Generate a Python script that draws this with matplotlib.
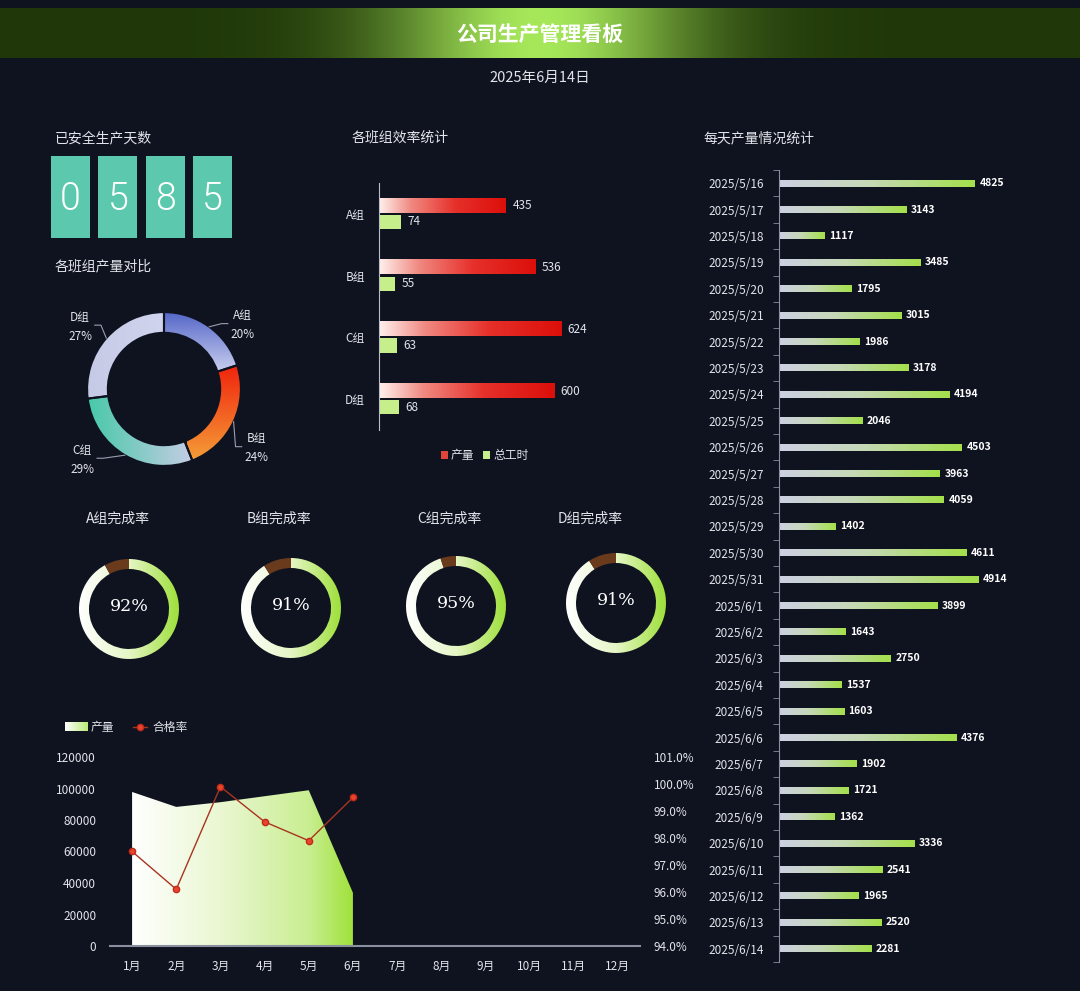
import matplotlib
matplotlib.use('Agg')
import matplotlib.pyplot as plt
import numpy as np
from matplotlib.patches import Wedge, Rectangle, Polygon
from matplotlib.lines import Line2D
from matplotlib.colors import to_rgb

plt.rcParams['font.family'] = ['Noto Sans CJK SC', 'DejaVu Sans']

# ---- data ----
title = '公司生产管理看板'
date_str = '2025年6月14日'
safe_days = '0585'

groups = ['A组', 'B组', 'C组', 'D组']
group_share = [20, 24, 29, 27]          # 各班组产量对比 (%)
eff_output = [435, 536, 624, 600]       # 产量
eff_hours = [74, 55, 63, 68]            # 总工时
done_rate = [92, 91, 95, 91]            # 完成率

months = ['1月', '2月', '3月', '4月', '5月', '6月', '7月', '8月', '9月', '10月', '11月', '12月']
month_output = [97800, 88300, 91300, 95100, 98900, 33800]
pass_rate = [97.5, 96.1, 99.9, 98.6, 97.9, 99.5]

days = ['2025/5/16', '2025/5/17', '2025/5/18', '2025/5/19', '2025/5/20', '2025/5/21',
        '2025/5/22', '2025/5/23', '2025/5/24', '2025/5/25', '2025/5/26', '2025/5/27',
        '2025/5/28', '2025/5/29', '2025/5/30', '2025/5/31', '2025/6/1', '2025/6/2',
        '2025/6/3', '2025/6/4', '2025/6/5', '2025/6/6', '2025/6/7', '2025/6/8',
        '2025/6/9', '2025/6/10', '2025/6/11', '2025/6/12', '2025/6/13', '2025/6/14']
day_output = [4825, 3143, 1117, 3485, 1795, 3015, 1986, 3178, 4194, 2046, 4503, 3963,
              4059, 1402, 4611, 4914, 3899, 1643, 2750, 1537, 1603, 4376, 1902, 1721,
              1362, 3336, 2541, 1965, 2520, 2281]

# ---- layout helpers ----
W, H = 1080, 991
BG = '#0f1320'
TXT = '#e2e4ea'

fig = plt.figure(figsize=(W / 100, H / 100), dpi=100, facecolor=BG)


def pax(x0, y0, x1, y1):
    ax = fig.add_axes([x0 / W, 1 - y1 / H, (x1 - x0) / W, (y1 - y0) / H])
    ax.set_facecolor('none')
    return ax


def ftext(x, y, s, **kw):
    kw.setdefault('color', TXT)
    kw.setdefault('va', 'center')
    fig.text(x / W, 1 - y / H, s, **kw)


def grad(c0, c1, n=256, vertical=False, stops=None):
    cols = [c0, c1] if stops is None else [c for _, c in stops]
    pos = [0, 1] if stops is None else [p for p, _ in stops]
    t = np.linspace(0, 1, n)
    rgb = np.array([to_rgb(c) for c in cols])
    g = np.stack([np.interp(t, pos, rgb[:, k]) for k in range(3)], axis=1)
    return g[:, None, :] if vertical else g[None, :, :]


# ---- header ----
hax = pax(0, 8, W, 58)
hax.axis('off')
xs = np.linspace(0, 1, 600)
glow = np.exp(-((xs - 0.5) / 0.14) ** 2)
dark = np.array(to_rgb('#203809'))
bright = np.array(to_rgb('#a6e85a'))
band = dark + (bright - dark) * glow[:, None]
hax.imshow(band[None, :, :], extent=(0, 1, 0, 1), aspect='auto')
hax.set_xlim(0, 1)
hax.set_ylim(0, 1)
ftext(540, 34, title, ha='center', fontsize=15, fontweight='bold', color='white')
ftext(540, 78, date_str, ha='center', fontsize=10.5)

# ---- section titles ----
ftext(55, 138, '已安全生产天数', fontsize=10)
ftext(352, 138, '各班组效率统计', fontsize=10)
ftext(703, 138, '每天产量情况统计', fontsize=10)
ftext(55, 266, '各班组产量对比', fontsize=10)

# ---- safe days digits ----
for i, d in enumerate(safe_days):
    x0 = 51 + i * 47.3
    fig.add_artist(Rectangle((x0 / W, 1 - 238 / H), 39 / W, 82 / H,
                             transform=fig.transFigure, facecolor='#5cc9ae', edgecolor='none'))
    ftext(x0 + 19.5, 199, d, ha='center', fontsize=27, color='white',
          family=['Roboto', 'DejaVu Sans'], fontweight=300)

# ---- donut: group share ----
dax = pax(64, 289, 264, 489)
dax.axis('off')
slice_grads = [
    ('#c6ccee', '#5466c8', True, (0, 1, 0.25, 1)),
    ('#f5a53a', '#f01a0a', True, (0.3, 1, -1, 0.4)),
    ('#46c9a8', '#c8cde6', False, (-1, 0.4, -1, 0.1)),
    ('#c6cae6', '#d2d5ee', False, (-1, 0.1, -0.2, 1)),
]
label_pos = [(1.02, 0.83), (1.20, -0.77), (-1.06, -0.92), (-1.09, 0.81)]
start = 90
for i, pct in enumerate(group_share):
    th1 = start - pct * 3.6
    w = Wedge((0, 0), 1.0, th1, start, width=0.27, facecolor='none', edgecolor='none')
    dax.add_patch(w)
    c0, c1, vert, ext = slice_grads[i]
    im = dax.imshow(grad(c0, c1, vertical=vert), extent=ext, origin='lower',
                    aspect='auto', zorder=1)
    im.set_clip_path(w)
    dax.add_patch(Wedge((0, 0), 1.0, th1, start, width=0.27, facecolor='none',
                        edgecolor=BG, lw=1.5, zorder=3))
    mid = np.radians((start + th1) / 2)
    lx, ly = label_pos[i]
    sx = np.sign(lx)
    p0 = (np.cos(mid) * 1.0, np.sin(mid) * 1.0)
    p1 = (lx - sx * 0.27, ly + 0.02)
    dax.plot([p0[0], p1[0], p1[0] + sx * 0.08], [p0[1], p1[1], p1[1]],
             color='#9a9eb0', lw=0.8, zorder=4, clip_on=False)
    dax.text(lx, ly, f'{groups[i]}\n{pct}%', ha='center', va='center', fontsize=8.5,
             color=TXT, linespacing=1.6, clip_on=False)
    start = th1
dax.set_xlim(-1.3, 1.3)
dax.set_ylim(-1.3, 1.3)

# ---- efficiency bars ----
eax = pax(379, 183, 600, 430)
n = len(groups)
red_stops = [(0, '#fff1ee'), (0.25, '#f08a82'), (0.6, '#e6302a'), (1, '#dc0f0a')]
for i in range(n):
    eax.imshow(grad(None, None, stops=red_stops), extent=(0, eff_output[i], i - 0.25, i - 0.02),
               origin='lower', aspect='auto', zorder=2)
    eax.barh(i + 0.13, eff_hours[i], height=0.23, color='#c6ef8c', zorder=2)
    eax.text(eff_output[i] + 22, i - 0.13, str(eff_output[i]), va='center', fontsize=8.5, color=TXT)
    eax.text(eff_hours[i] + 22, i + 0.13, str(eff_hours[i]), va='center', fontsize=8.5, color=TXT)
eax.set_xlim(0, 757)
eax.set_ylim(n - 0.5, -0.5)
eax.set_yticks(range(n))
eax.set_yticklabels(groups, fontsize=8.5, color=TXT)
eax.tick_params(axis='y', length=0, pad=10)
eax.set_xticks([])
for s in ['top', 'right', 'bottom']:
    eax.spines[s].set_visible(False)
eax.spines['left'].set_color('#b8bcc8')

# legend
fig.add_artist(Rectangle((441 / W, 1 - 459 / H), 7 / W, 8 / H, transform=fig.transFigure,
                         facecolor='#e0453c', edgecolor='none'))
ftext(451, 455, '产量', fontsize=8.5)
fig.add_artist(Rectangle((483 / W, 1 - 459 / H), 7 / W, 8 / H, transform=fig.transFigure,
                         facecolor='#c6ef8c', edgecolor='none'))
ftext(493, 455, '总工时', fontsize=8.5)

# ---- completion gauges ----
gauge_xy = [(129, 609), (291, 608), (456, 606), (616, 603)]
gauge_title_x = [118, 279, 449, 590]
for i, rate in enumerate(done_rate):
    cx, cy = gauge_xy[i]
    gax = pax(cx - 60, cy - 60, cx + 60, cy + 60)
    gax.axis('off')
    done = Wedge((0, 0), 1.0, 90 - 3.6 * rate, 90, width=0.2, facecolor='none', edgecolor='none')
    gax.add_patch(done)
    im = gax.imshow(grad(None, None, stops=[(0, '#ffffff'), (0.5, '#e6f6c6'), (1, '#9ee03a')]),
                    extent=(-1, 1, -1, 1), origin='lower', aspect='auto', zorder=1)
    im.set_clip_path(done)
    gax.add_patch(Wedge((0, 0), 1.0, 90, 90 + 3.6 * (100 - rate), width=0.2,
                        facecolor='#6a3a1c', edgecolor='none', zorder=2))
    gax.text(0, 0.05, f'{rate}%', ha='center', va='center', fontsize=12.5, color='white',
             family=['DejaVu Serif'])
    gax.set_xlim(-1.2, 1.2)
    gax.set_ylim(-1.2, 1.2)
    ftext(gauge_title_x[i], 519, f'{groups[i]}完成率', ha='center', fontsize=10)

# ---- monthly output & pass rate ----
max_ = pax(110, 757, 640, 946)
xm = np.arange(len(month_output))
poly = Polygon([(xm[0], 0)] + list(zip(xm, month_output)) + [(xm[-1], 0)],
               closed=True, facecolor='none', edgecolor='none')
max_.add_patch(poly)
area_stops = [(0, '#ffffff'), (0.4, '#eaf7d2'), (0.8, '#c9ee92'), (1, '#a0e23a')]
im = max_.imshow(grad(None, None, stops=area_stops), extent=(0, len(month_output) - 1, 0, 120000),
                 origin='lower', aspect='auto', zorder=1)
im.set_clip_path(poly)
max_.set_xlim(-0.5, len(months) - 0.5)
max_.set_ylim(0, 120000)
max_.set_yticks(np.arange(0, 120001, 20000))
max_.set_yticklabels([str(v) for v in range(0, 120001, 20000)], fontsize=8.5, color=TXT)
max_.set_xticks(range(len(months)))
max_.set_xticklabels(months, fontsize=8.5, color=TXT)
max_.tick_params(length=0, pad=10)
for s in ['top', 'right', 'left']:
    max_.spines[s].set_visible(False)
max_.spines['bottom'].set_color('#8a8fa0')
max_.spines['bottom'].set_linewidth(1.5)

rax = max_.twinx()
rax.plot(xm, pass_rate, color='#a8341f', lw=1.0, marker='o', ms=4.5,
         markerfacecolor='#e8452e', markeredgecolor='#c02a18', zorder=5)
rax.set_ylim(94, 101)
rax.set_yticks(np.arange(94, 101.1, 1))
rax.set_yticklabels([f'{v:.1f}%' for v in np.arange(94, 101.1, 1)], fontsize=8.5, color=TXT)
rax.tick_params(length=0, pad=10)
for s in rax.spines.values():
    s.set_visible(False)

# legend
lg = fig.add_axes([65 / W, 1 - 731 / H, 23 / W, 9 / H])
lg.axis('off')
lg.imshow(grad('#ffffff', '#b9ea78'), extent=(0, 1, 0, 1), aspect='auto')
ftext(91, 727, '产量', fontsize=8.5)
fig.add_artist(Line2D([133 / W, 147 / W], [1 - 727 / H] * 2, transform=fig.transFigure,
                      color='#a8341f', lw=1))
fig.add_artist(Line2D([140 / W], [1 - 727 / H], transform=fig.transFigure, marker='o', ms=4.5,
                      markerfacecolor='#e8452e', markeredgecolor='#c02a18'))
ftext(152, 727, '合格率', fontsize=8.5)

# ---- daily output bars ----
dx = pax(779, 170, 982, 962)
nd = len(days)
day_stops = [(0, '#cdd0e2'), (0.45, '#c6d8b8'), (1, '#a4e04a')]
for i, v in enumerate(day_output):
    dx.imshow(grad(None, None, stops=day_stops), extent=(0, v, i - 0.13, i + 0.13),
              origin='lower', aspect='auto', zorder=2)
    dx.text(v + 110, i, str(v), va='center', fontsize=7.5, fontweight='bold',
            color='white', clip_on=False)
dx.set_xlim(0, 5000)
dx.set_ylim(nd - 0.5, -0.5)
dx.set_yticks(range(nd))
dx.set_yticklabels(days, fontsize=8.5, color=TXT)
dx.set_yticks(np.arange(-0.5, nd, 1), minor=True)
dx.tick_params(axis='y', which='major', length=0, pad=11)
dx.tick_params(axis='y', which='minor', length=4, color='#8a8fa0')
dx.set_xticks([])
for s in ['top', 'right', 'bottom']:
    dx.spines[s].set_visible(False)
dx.spines['left'].set_color('#8a8fa0')

fig.savefig('out.png', dpi=100, facecolor=BG)
